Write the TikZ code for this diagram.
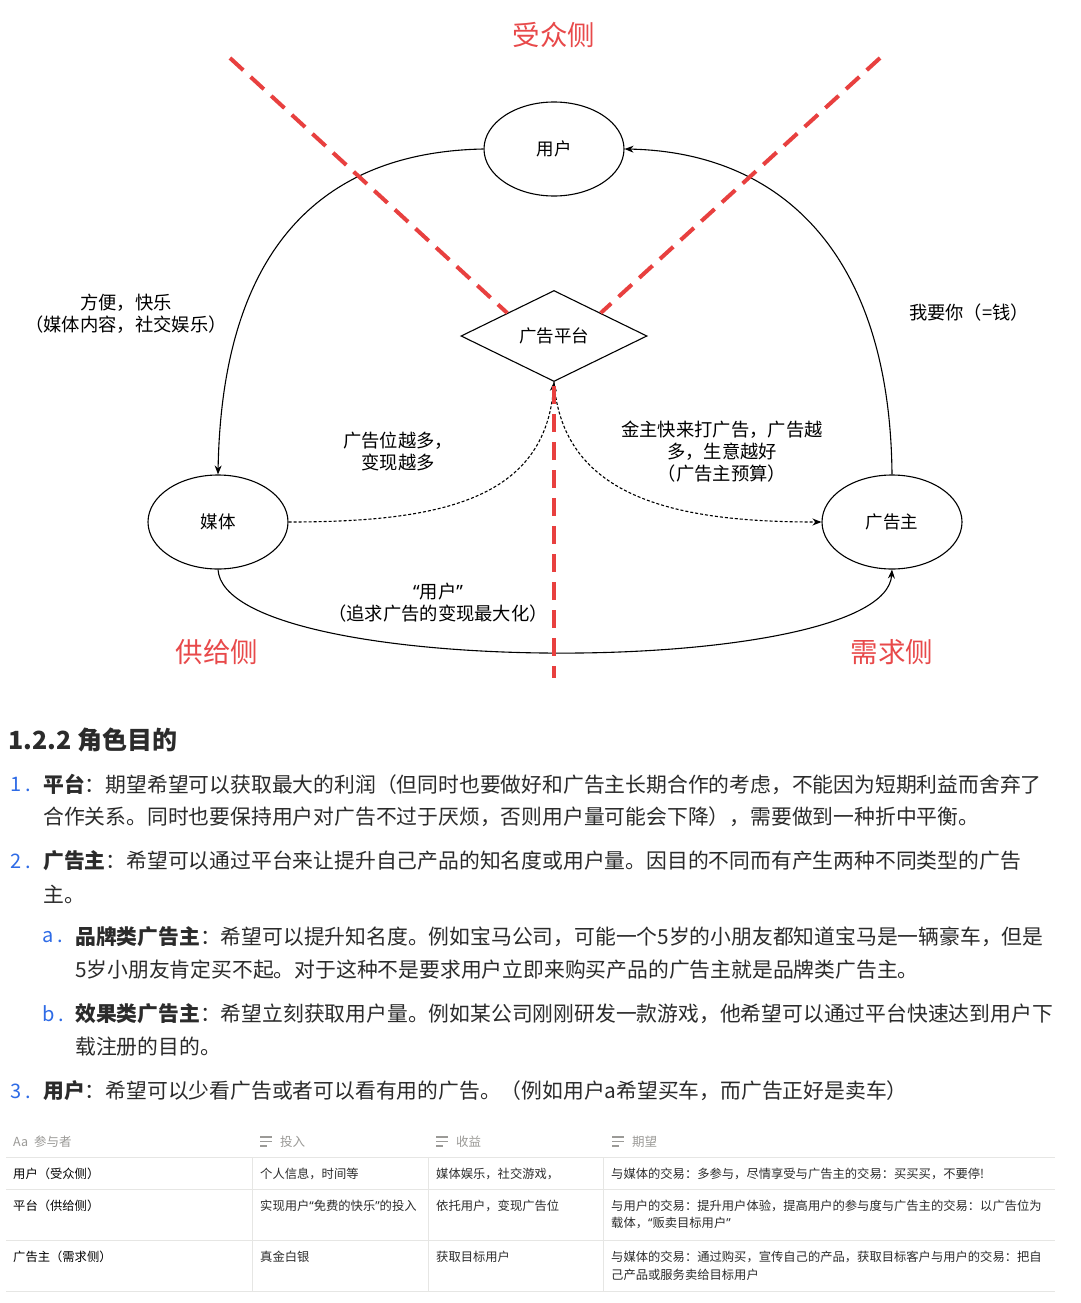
\documentclass[tikz,border=0pt]{standalone}
\usepackage{fontspec}
\setmainfont{Noto Sans CJK SC}
\newfontfamily\latq{Noto Sans}
\newcommand{\oq}{{\latq “}}
\newcommand{\cq}{{\latq ”}}
\usetikzlibrary{shapes.geometric,arrows.meta}
\definecolor{dashred}{HTML}{E8403F}
\definecolor{labred}{HTML}{E8494A}
\definecolor{bodytxt}{HTML}{2B2B2B}
\definecolor{numblue}{HTML}{2E6BE6}
\definecolor{hdrgray}{HTML}{9B9A97}
\definecolor{gridgray}{HTML}{E6E6E4}
\begin{document}
\begin{tikzpicture}[x=1pt,y=-1pt,
  ell/.style={ellipse, draw, line width=1.1pt, minimum width=140pt, minimum height=94pt, inner sep=0pt, font=\fontsize{17.5}{20}\selectfont},
  dia/.style={diamond, draw, line width=1.1pt, minimum width=186pt, minimum height=91pt, inner sep=0pt, font=\fontsize{17.5}{20}\selectfont},
  conn/.style={draw, line width=1.1pt, -{Stealth[length=9pt,width=7pt]}},
  dotconn/.style={conn, dash pattern=on 3pt off 2pt},
  reddash/.style={draw=dashred, line width=4pt, dash pattern=on 18pt off 10pt},
  sidelab/.style={text=labred, font=\fontsize{27.5}{30}\selectfont, inner sep=0pt},
  lab/.style={font=\fontsize{18.3}{22}\selectfont, align=center, inner sep=0pt},
  heading/.style={anchor=west, text=bodytxt, font=\fontsize{25}{28}\selectfont\bfseries, inner sep=0pt},
  body/.style={anchor=west, text=bodytxt, font=\fontsize{20.8}{24}\selectfont, inner sep=0pt},
  num/.style={anchor=west, text=numblue, font=\fontsize{20}{24}\selectfont, inner sep=0pt},
  tbl/.style={anchor=west, text=bodytxt, font=\fontsize{12.3}{14}\selectfont, inner sep=0pt},
  tblh/.style={tbl, text=black},
  thd/.style={anchor=west, text=hdrgray, font=\fontsize{12.5}{14}\selectfont, inner sep=0pt},
  grid/.style={draw=gridgray, line width=1pt},
  icon/.style={draw=hdrgray, line width=1.2pt}
]
\useasboundingbox[fill=white] (0,0) rectangle (1080,1303);

% ---------- diagram nodes ----------
\node[ell] (user) at (554,149) {用户};
\node[dia] (plat) at (554,336) {广告平台};
\node[ell] (media) at (218,522) {媒体};
\node[ell] (adv) at (892,522) {广告主};

\node[sidelab] (s1) at (554,35) {受众侧};
\node[sidelab] (s2) at (217,652) {供给侧};
\node[sidelab] (s3) at (892,652) {需求侧};

% ---------- connectors ----------
\draw[conn] (user.west) .. controls (325,152) and (222,245) .. (media.north);
\draw[conn] (adv.north) .. controls (890,250) and (778,152) .. (user.east);
\draw[conn] (media.south) .. controls (225,680) and (885,680) .. (adv.south);
\draw[dotconn] (media.east) .. controls (440,522) and (545,500) .. (plat.south);
\draw[dotconn] (plat.south) .. controls (563,500) and (680,522) .. (adv.west);

% ---------- red dashed separators ----------
\coordinate (rl) at (230,58);
\coordinate (rr) at (880,58);
\coordinate (rb) at (554,678);
\coordinate (rt) at (554,386);
\draw[reddash] (rl) -- (plat.north west);
\draw[reddash] (rr) -- (plat.north east);
\draw[reddash] (rt) -- (rb);

% ---------- labels ----------
\node[lab] (l1) at (126,314) {方便，快乐\\（媒体内容，社交娱乐）};
\node[lab] (l2) at (969,313) {我要你（=钱）};
\node[lab] (l3) at (398,452) {广告位越多，\\变现越多};
\node[lab] (l4) at (722,452) {金主快来打广告，广告越\\多，生意越好\\（广告主预算）};
\node[lab] (l5) at (438,603) {\oq 用户\cq\\（追求广告的变现最大化）};

% ---------- text section ----------
\node[heading] (h) at (8,740) {1.2.2 角色目的};

\node[num] (n1) at (10,784) {1\hspace{4pt}.};
\node[body] (t1a) at (43,784) {\textbf{平台}：期望希望可以获取最大的利润（但同时也要做好和广告主长期合作的考虑，不能因为短期利益而舍弃了};
\node[body] (t1b) at (43,817) {合作关系。同时也要保持用户对广告不过于厌烦，否则用户量可能会下降），需要做到一种折中平衡。};

\node[num] (n2) at (10,861) {2\hspace{4pt}.};
\node[body] (t2a) at (43,861) {\textbf{广告主}：希望可以通过平台来让提升自己产品的知名度或用户量。因目的不同而有产生两种不同类型的广告};
\node[body] (t2b) at (43,894) {主。};

\node[num] (na) at (42,937) {a\hspace{4pt}.};
\node[body] (taa) at (75,937) {\textbf{品牌类广告主}：希望可以提升知名度。例如宝马公司，可能一个5岁的小朋友都知道宝马是一辆豪车，但是};
\node[body] (tab) at (75,970) {5岁小朋友肯定买不起。对于这种不是要求用户立即来购买产品的广告主就是品牌类广告主。};

\node[num] (nb) at (42,1014) {b\hspace{4pt}.};
\node[body] (tba) at (75,1014) {\textbf{效果类广告主}：希望立刻获取用户量。例如某公司刚刚研发一款游戏，他希望可以通过平台快速达到用户下};
\node[body] (tbb) at (75,1047) {载注册的目的。};

\node[num] (n3) at (10,1091) {3\hspace{4pt}.};
\node[body] (t3) at (43,1091) {\textbf{用户}：希望可以少看广告或者可以看有用的广告。（例如用户a希望买车，而广告正好是卖车）};

% ---------- table ----------
\node[thd] (hc1) at (13,1142) {Aa\hspace{6pt}参与者};
\draw[icon] (260,1137) -- (272,1137);
\draw[icon] (260,1141.5) -- (272,1141.5);
\draw[icon] (260,1146) -- (267,1146);
\node[thd] (hc2) at (280,1142) {投入};
\draw[icon] (436,1137) -- (448,1137);
\draw[icon] (436,1141.5) -- (448,1141.5);
\draw[icon] (436,1146) -- (443,1146);
\node[thd] (hc3) at (456,1142) {收益};
\draw[icon] (612,1137) -- (624,1137);
\draw[icon] (612,1141.5) -- (624,1141.5);
\draw[icon] (612,1146) -- (619,1146);
\node[thd] (hc4) at (632,1142) {期望};

\draw[grid] (6,1157) -- (1055,1157);
\draw[grid] (6,1189) -- (1055,1189);
\draw[grid] (6,1240) -- (1055,1240);
\draw[grid] (6,1291) -- (1055,1291);
\draw[grid] (252,1157) -- (252,1291);
\draw[grid] (428,1157) -- (428,1291);
\draw[grid] (603,1157) -- (603,1291);

\node[tblh] (r1c1) at (13,1174) {用户（受众侧）};
\node[tbl] (r1c2) at (260,1174) {个人信息，时间等};
\node[tbl] (r1c3) at (436,1174) {媒体娱乐，社交游戏，};
\node[tbl] (r1c4) at (611,1174) {与媒体的交易：多参与，尽情享受与广告主的交易：买买买，不要停!};

\node[tblh] (r2c1) at (13,1206) {平台（供给侧）};
\node[tbl] (r2c2) at (260,1206) {实现用户\oq 免费的快乐\cq 的投入};
\node[tbl] (r2c3) at (436,1206) {依托用户，变现广告位};
\node[tbl] (r2c4) at (611,1206) {与用户的交易：提升用户体验，提高用户的参与度与广告主的交易：以广告位为};
\node[tbl] (r2c4b) at (611,1223) {载体，\oq 贩卖目标用户\cq};

\node[tblh] (r3c1) at (13,1257) {广告主（需求侧）};
\node[tbl] (r3c2) at (260,1257) {真金白银};
\node[tbl] (r3c3) at (436,1257) {获取目标用户};
\node[tbl] (r3c4) at (611,1257) {与媒体的交易：通过购买，宣传自己的产品，获取目标客户与用户的交易：把自};
\node[tbl] (r3c4b) at (611,1275) {己产品或服务卖给目标用户};
\end{tikzpicture}
\end{document}
